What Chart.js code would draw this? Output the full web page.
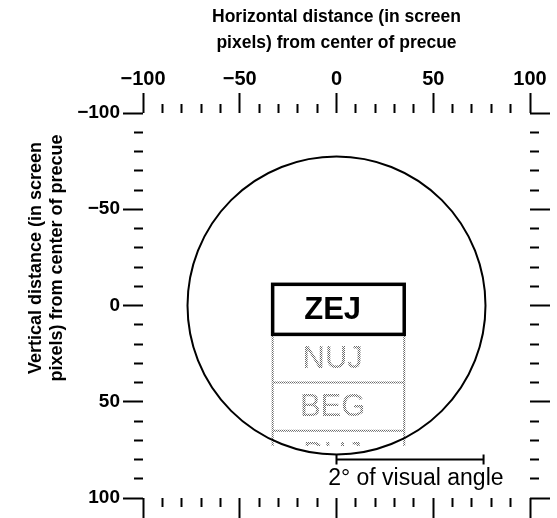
<!DOCTYPE html>
<html>
<head>
<meta charset="utf-8">
<script src="https://cdn.jsdelivr.net/npm/chart.js@4.4.0/dist/chart.umd.min.js"></script>
<style>
  html, body { margin: 0; padding: 0; background: #fff; }
  #wrap { width: 557px; height: 518px; }
</style>
</head>
<body>
<div id="wrap"><canvas id="chart" width="557" height="518"></canvas></div>
<script>
// Precue display layout, in screen pixels from the centre of the precue
const axisRange = [-100, 100];
const minorStep = 10;
const majorTicks = [-100, -50, 0, 50, 100];
const tickLabels = ['\u2212100', '\u221250', '0', '50', '100'];

const apertureCenter = [0, 0];
const apertureRadius = 77;

const cueWords = ['ZEJ', 'NUJ', 'BEG', 'BUJ'];
const rowEdges = [-11, 15, 40, 65, 90];
const rowVisibleTo = 73;
const rowLeft = -33;
const rowRight = 35;
const wordX = -2;

const scaleBar = [0, 76];
const scaleBarY = 80;
const scaleBarLabel = '2\u00b0 of visual angle';
const scaleBarLabelAt = [41, 90];

const xTitle = ['Horizontal distance (in screen', 'pixels) from center of precue'];
const yTitle = ['Vertical distance (in screen', 'pixels) from center of precue'];

const FONT = '"Liberation Sans", Arial, sans-serif';

// tick label text for the major positions only
function tickText(v) {
    const i = majorTicks.indexOf(v);
    return i >= 0 ? tickLabels[i] : '';
}

// minor ticks are shortened with a dash; outerFirst = line runs from outside toward the plot
function tickDash(outerFirst) {
    return (c) => {
        if (!c.tick || majorTicks.includes(c.tick.value)) return [];
        return outerFirst ? [0, 11, 9, 40] : [9, 40];
    };
}

function axis(position, opts) {
    return Object.assign({
        type: 'linear',
        position: position,
        min: axisRange[0],
        max: axisRange[1],
        ticks: { stepSize: minorStep, autoSkip: false, maxRotation: 0, display: false },
        grid: {
            drawOnChartArea: false,
            tickLength: 20,
            tickWidth: 2,
            tickColor: '#000',
            tickBorderDash: tickDash(position === 'top' || position === 'left')
        },
        border: { display: false }
    }, opts);
}

// stipple used for the faded rows
const stipple = document.createElement('canvas');
stipple.width = 2;
stipple.height = 2;
(function () {
    const g = stipple.getContext('2d');
    g.fillStyle = '#6a6a6a';
    g.fillRect(0, 0, 1, 1);
    g.fillRect(1, 1, 1, 1);
})();

const precueLayer = {
    id: 'precueLayer',
    afterDraw(chart) {
        const { ctx, scales: { x, y } } = chart;
        const px = v => x.getPixelForValue(v);
        const py = v => y.getPixelForValue(v);
        const dots = ctx.createPattern(stipple, 'repeat');
        const left = px(rowLeft), right = px(rowRight);

        ctx.save();
        ctx.textAlign = 'center';
        ctx.textBaseline = 'middle';

        // faded rows below the cued word
        ctx.lineWidth = 2;
        ctx.strokeStyle = dots;
        ctx.fillStyle = dots;
        ctx.font = '31px ' + FONT;
        for (let i = 1; i < cueWords.length; i++) {
            const top = py(rowEdges[i]);
            const full = py(rowEdges[i + 1]);
            const bottom = py(Math.min(rowEdges[i + 1], rowVisibleTo));
            ctx.save();
            ctx.beginPath();
            ctx.rect(left, top, right - left, bottom - top);
            ctx.clip();
            ctx.fillText(cueWords[i], px(wordX), (top + full) / 2 + 1);
            ctx.restore();
            ctx.beginPath();
            ctx.moveTo(left, top); ctx.lineTo(left, bottom);
            ctx.moveTo(right, top); ctx.lineTo(right, bottom);
            if (rowEdges[i + 1] <= rowVisibleTo) {
                ctx.moveTo(left, bottom); ctx.lineTo(right, bottom);
            }
            ctx.stroke();
        }

        // aperture circle
        const cx = px(apertureCenter[0]), cy = py(apertureCenter[1]);
        const r = Math.abs(px(apertureCenter[0] + apertureRadius) - cx);
        ctx.beginPath();
        ctx.arc(cx, cy, r, 0, Math.PI * 2);
        ctx.strokeStyle = '#000';
        ctx.lineWidth = 2;
        ctx.stroke();

        // cued word
        const t0 = py(rowEdges[0]), t1 = py(rowEdges[1]);
        ctx.lineWidth = 3.5;
        ctx.strokeRect(left, t0, right - left, t1 - t0);
        ctx.fillStyle = '#000';
        ctx.font = 'bold 31px ' + FONT;
        ctx.fillText(cueWords[0], px(wordX), (t0 + t1) / 2 + 1);

        // scale bar
        const b0 = px(scaleBar[0]), b1 = px(scaleBar[1]), by = py(scaleBarY);
        ctx.lineWidth = 2;
        ctx.beginPath();
        ctx.moveTo(b0, by); ctx.lineTo(b1, by);
        ctx.moveTo(b0, by - 5); ctx.lineTo(b0, by + 5);
        ctx.moveTo(b1, by - 5); ctx.lineTo(b1, by + 5);
        ctx.stroke();
        ctx.font = '23px ' + FONT;
        ctx.fillText(scaleBarLabel, px(scaleBarLabelAt[0]), py(scaleBarLabelAt[1]));

        // vertical axis title
        ctx.font = 'bold 18px ' + FONT;
        ctx.translate(36, 258);
        ctx.rotate(-Math.PI / 2);
        yTitle.forEach((line, i) => ctx.fillText(line, 0, i * 21));
        ctx.restore();
    }
};

new Chart(document.getElementById('chart'), {
    type: 'scatter',
    data: {
        datasets: [{ data: [{ x: apertureCenter[0], y: apertureCenter[1] }], pointRadius: 0 }]
    },
    options: {
        responsive: false,
        animation: false,
        layout: { padding: 0 },
        plugins: { legend: { display: false }, tooltip: { enabled: false } },
        scales: {
            x: axis('top', {
                ticks: {
                    stepSize: minorStep, autoSkip: false, maxRotation: 0,
                    callback: tickText, color: '#000', padding: 2,
                    font: { family: FONT, size: 20, weight: 'bold' }
                },
                title: {
                    display: true, text: xTitle, color: '#000',
                    font: { family: FONT, size: 17.5, weight: 'bold', lineHeight: 1.48 },
                    padding: { top: 4, bottom: 0 }
                },
                afterFit: s => { s.height = 113; }
            }),
            x2: axis('bottom', { afterFit: s => { s.height = 20; } }),
            y: axis('left', {
                reverse: true,
                ticks: {
                    stepSize: minorStep, autoSkip: false,
                    callback: tickText, color: '#000', padding: 3,
                    font: { family: FONT, size: 19, weight: 'bold' }
                },
                afterFit: s => { s.width = 143; }
            }),
            y2: axis('right', { reverse: true, afterFit: s => { s.width = 27; } })
        }
    },
    plugins: [precueLayer]
});
</script>
</body>
</html>
